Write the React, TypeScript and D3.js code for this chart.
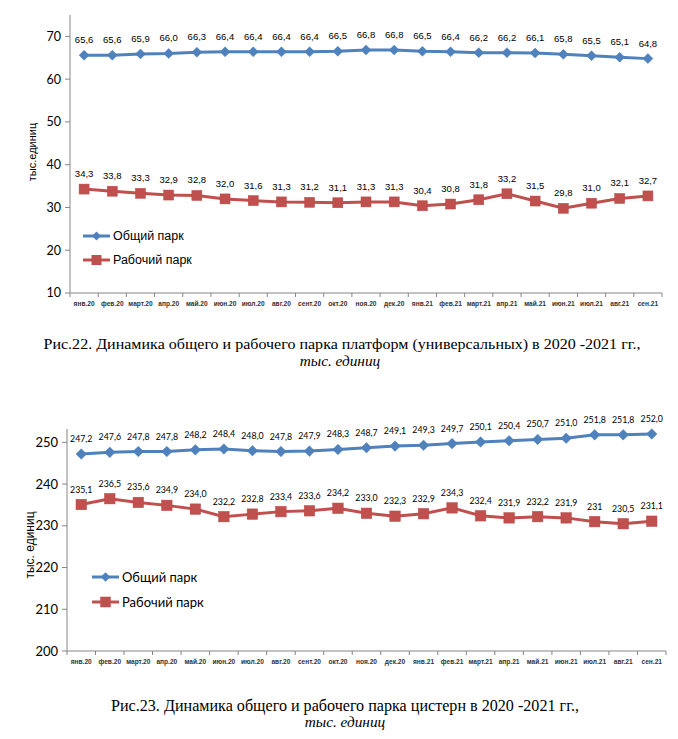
import React from "react";
import * as d3 from "d3";

const categories = ["янв.20","фев.20","март.20","апр.20","май.20","июн.20","июл.20","авг.20","сент.20","окт.20","ноя.20","дек.20","янв.21","фев.21","март.21","апр.21","май.21","июн.21","июл.21","авг.21","сен.21"];

// Chart 22 – platforms (labels as printed)
const platformTotal = ["65,6","65,6","65,9","66,0","66,3","66,4","66,4","66,4","66,4","66,5","66,8","66,8","66,5","66,4","66,2","66,2","66,1","65,8","65,5","65,1","64,8"];
const platformWorking = ["34,3","33,8","33,3","32,9","32,8","32,0","31,6","31,3","31,2","31,1","31,3","31,3","30,4","30,8","31,8","33,2","31,5","29,8","31,0","32,1","32,7"];
const platformTicks = [10, 20, 30, 40, 50, 60, 70];

// Chart 23 – tanks
const tankTotal = ["247,2","247,6","247,8","247,8","248,2","248,4","248,0","247,8","247,9","248,3","248,7","249,1","249,3","249,7","250,1","250,4","250,7","251,0","251,8","251,8","252,0"];
const tankWorking = ["235,1","236,5","235,6","234,9","234,0","232,2","232,8","233,4","233,6","234,2","233,0","232,3","232,9","234,3","232,4","231,9","232,2","231,9","231","230,5","231,1"];
const tankTicks = [200, 210, 220, 230, 240, 250];

const seriesNames = ["Общий парк", "Рабочий парк"];
const BLUE = "#4F81BD";
const RED = "#C0504D";
const AXIS = "#868686";

const num = (s: string) => parseFloat(s.replace(",", "."));

type ChartProps = {
  x0: number; x1: number; yTop: number; yBottom: number;
  domain: [number, number]; ticks: number[];
  total: string[]; working: string[];
  yTitle: string; yTitleX: number; yTitleY: number; yTitleSize: number;
  legendX: number; legendY1: number; legendY2: number;
  labelFont: string; labelSize: number; tickFont: string; tickSize: number;
  legendFont: string; legendSize: number;
  diamond: number; square: number;
};

function Chart(p: ChartProps) {
  const x = d3.scaleBand<string>().domain(categories).range([p.x0, p.x1]);
  const y = d3.scaleLinear().domain(p.domain).range([p.yBottom, p.yTop]);
  const cx = (c: string) => (x(c) as number) + x.bandwidth() / 2;
  const line = d3.line<string>().x((_, i) => cx(categories[i])).y((d) => y(num(d)));
  const bounds = categories.map((c) => x(c) as number).concat([p.x1]);
  const diamondPath = (s: number) => `M0,${-s}L${s},0L0,${s}L${-s},0Z`;
  const sq = p.square;
  return (
    <g>
      <line x1={p.x0} x2={p.x0} y1={p.yTop} y2={p.yBottom} stroke={AXIS} strokeWidth={1} />
      <line x1={p.x0} x2={p.x1} y1={p.yBottom} y2={p.yBottom} stroke={AXIS} strokeWidth={1} />
      {p.ticks.map((t) => (
        <g key={t}>
          <line x1={p.x0 - 5} x2={p.x0} y1={y(t)} y2={y(t)} stroke={AXIS} />
          <text x={p.x0 - 9} y={y(t)} dy="0.35em" textAnchor="end" fontFamily={p.tickFont} fontSize={p.tickSize} fill="#000">{t}</text>
        </g>
      ))}
      {bounds.map((b, i) => (
        <line key={i} x1={b} x2={b} y1={p.yBottom} y2={p.yBottom + 4} stroke={AXIS} />
      ))}
      {categories.map((c) => (
        <text key={c} x={cx(c)} y={p.yBottom + 13} textAnchor="middle" fontFamily="Liberation Sans, Arial" fontSize={6.6} fontWeight="bold" fill="#333">{c}</text>
      ))}
      <text transform={`translate(${p.yTitleX},${p.yTitleY}) rotate(-90)`} textAnchor="middle" dy="0.35em" fontFamily="Liberation Sans, Arial" fontSize={p.yTitleSize} fill="#000">{p.yTitle}</text>
      <path d={line(p.total) || ""} fill="none" stroke={BLUE} strokeWidth={3} />
      <path d={line(p.working) || ""} fill="none" stroke={RED} strokeWidth={3} />
      {p.total.map((d, i) => (
        <g key={"t" + i} transform={`translate(${cx(categories[i])},${y(num(d))})`}>
          <path d={diamondPath(p.diamond)} fill={BLUE} stroke={BLUE} strokeWidth={0.5} />
          <text y={-12} textAnchor="middle" fontFamily={p.labelFont} fontSize={p.labelSize} fill="#000">{d}</text>
        </g>
      ))}
      {p.working.map((d, i) => (
        <g key={"w" + i} transform={`translate(${cx(categories[i])},${y(num(d))})`}>
          <rect x={-sq / 2} y={-sq / 2} width={sq} height={sq} fill={RED} stroke="#B84A47" strokeWidth={0.5} />
          <text y={-12} textAnchor="middle" fontFamily={p.labelFont} fontSize={p.labelSize} fill="#000">{d}</text>
        </g>
      ))}
      <g>
        <line x1={p.legendX} x2={p.legendX + 27} y1={p.legendY1} y2={p.legendY1} stroke={BLUE} strokeWidth={3} />
        <path transform={`translate(${p.legendX + 13.5},${p.legendY1})`} d={diamondPath(p.diamond - 0.5)} fill={BLUE} />
        <text x={p.legendX + 30} y={p.legendY1} dy="0.35em" fontFamily={p.legendFont} fontSize={p.legendSize} fill="#000">{seriesNames[0]}</text>
        <line x1={p.legendX} x2={p.legendX + 27} y1={p.legendY2} y2={p.legendY2} stroke={RED} strokeWidth={3} />
        <rect x={p.legendX + 13.5 - sq / 2} y={p.legendY2 - sq / 2} width={sq} height={sq} fill={RED} />
        <text x={p.legendX + 30} y={p.legendY2} dy="0.35em" fontFamily={p.legendFont} fontSize={p.legendSize} fill="#000">{seriesNames[1]}</text>
      </g>
    </g>
  );
}

export default function App() {
  const serif = "Liberation Serif, Times New Roman, serif";
  return (
    <svg width={678} height={739} style={{ position: "absolute", left: 0, top: 0, background: "#fff" }}>
      <rect width={678} height={739} fill="#fff" />
      <Chart x0={70} x1={662} yTop={15} yBottom={293} domain={[10, 75]} ticks={platformTicks}
        total={platformTotal} working={platformWorking}
        yTitle="тыс.единиц" yTitleX={32} yTitleY={152} yTitleSize={11}
        legendX={83} legendY1={236} legendY2={260}
        labelFont="Liberation Sans, Arial" labelSize={9.5} tickFont="Lato" tickSize={12.5}
        legendFont="Liberation Sans, Arial" legendSize={12.5} diamond={5} square={10} />
      <text x={342} y={349} textAnchor="middle" fontFamily={serif} fontSize={15.3} textLength={597} lengthAdjust="spacingAndGlyphs" fill="#000">Рис.22. Динамика общего и рабочего парка платформ (универсальных) в 2020 -2021 гг.,</text>
      <text x={340} y={366} textAnchor="middle" fontFamily={serif} fontSize={15.3} fontStyle="italic" fill="#000">тыс. единиц</text>

      <Chart x0={67} x1={666} yTop={429} yBottom={651} domain={[200, 253.2]} ticks={tankTicks}
        total={tankTotal} working={tankWorking}
        yTitle="тыс. единиц" yTitleX={30} yTitleY={545} yTitleSize={12}
        legendX={92} legendY1={577} legendY2={602}
        labelFont="Lato" labelSize={8.8} tickFont="Lato" tickSize={13}
        legendFont="Lato" legendSize={13} diamond={5.3} square={10.5} />
      <text x={345} y={711} textAnchor="middle" fontFamily={serif} fontSize={15.8} textLength={468} lengthAdjust="spacingAndGlyphs" fill="#000">Рис.23. Динамика общего и рабочего парка цистерн в 2020 -2021 гг.,</text>
      <text x={345} y={727} textAnchor="middle" fontFamily={serif} fontSize={15.3} fontStyle="italic" fill="#000">тыс. единиц</text>
    </svg>
  );
}
